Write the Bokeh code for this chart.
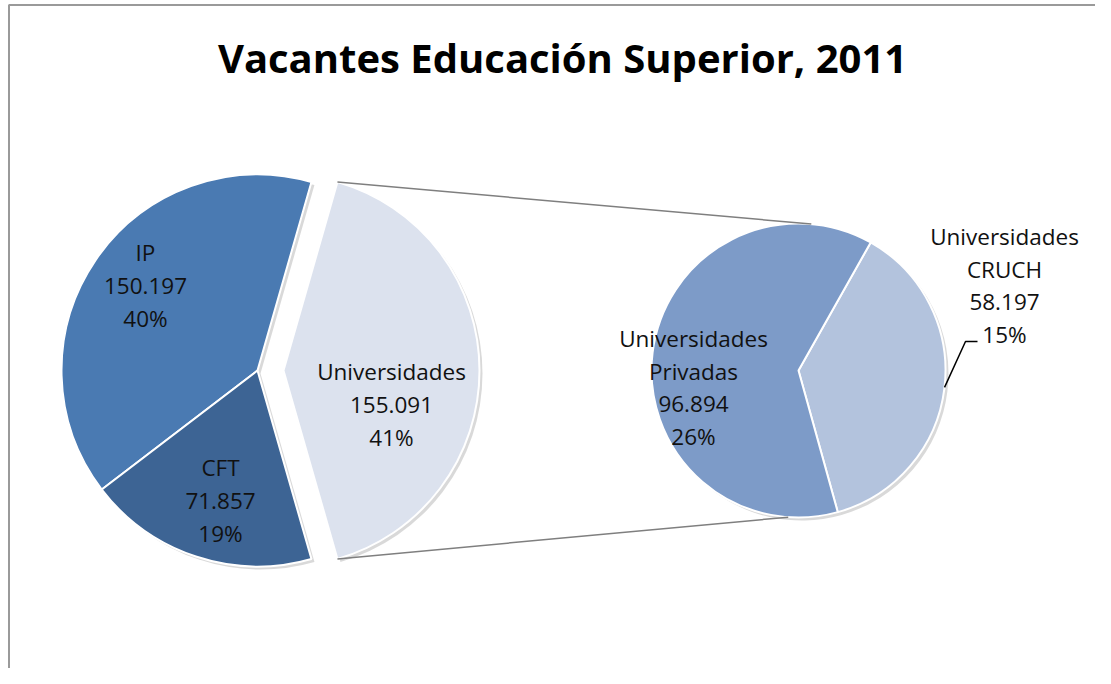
import math
from bokeh.plotting import figure
from bokeh.models import Range1d
from bokeh.core.properties import value
from bokeh.embed import file_html
from bokeh.resources import INLINE

# ---- data ----
title_text = "Vacantes Educación Superior, 2011"
main_categories = ["Universidades", "IP", "CFT"]
main_values = [155091, 150197, 71857]
sub_categories = ["Universidades\nCRUCH", "Universidades\nPrivadas"]
sub_values = [58197, 96894]

# ---- styles ----
main_colors = ["#DCE2EE", "#4A7AB2", "#3D6494"]
sub_colors = ["#B3C3DD", "#7D9BC8"]
FONT = "Open Sans"

W, H = 1095, 668
SCREEN_H = 684


def sy(y_screen):
    return SCREEN_H - y_screen


p = figure(width=W, height=H, x_range=Range1d(0, W), y_range=Range1d(SCREEN_H - H, SCREEN_H),
           output_backend="svg", toolbar_location=None, min_border=0,
           x_axis_type=None, y_axis_type=None)
p.grid.visible = False
p.outline_line_color = None
p.background_fill_color = "white"

# chart area border (left and top visible in reference)
p.line(x=[8.5, 8.5, W], y=[sy(684), sy(4.5), sy(4.5)], line_color="#9A9A9A", line_width=2)

total = sum(main_values)
fmt = lambda v: f"{v:,}".replace(",", ".")
pct = lambda v: f"{round(v / total * 100)}%"

# ---- main pie ----
cx, cy, R = 257, sy(370), 196
explode = 26
spans = [v / total * 2 * math.pi for v in main_values]
starts, ends = [], []
a = -spans[0] / 2
for s in spans:
    starts.append(a)
    ends.append(a + s)
    a += s
xs = [cx + explode, cx, cx]
ys = [cy, cy, cy]

# shadows
p.wedge(x=[x + 3 for x in xs], y=[y - 3 for y in ys], radius=R, start_angle=starts, end_angle=ends,
        fill_color="#000000", fill_alpha=0.15, line_color=None)
p.wedge(x=xs, y=ys, radius=R, start_angle=starts, end_angle=ends,
        fill_color=main_colors, line_color="white", line_width=2)

# ---- secondary pie ----
sx, scy, r2 = 798, sy(370), 147
sub_total = sum(sub_values)
s_spans = [v / sub_total * 2 * math.pi for v in sub_values]
s_start0 = math.radians(-74.5)
s_starts, s_ends = [], []
a = s_start0
for s in s_spans:
    s_starts.append(a)
    s_ends.append(a + s)
    a += s
p.wedge(x=[sx + 3] * 2, y=[scy - 3] * 2, radius=r2, start_angle=s_starts, end_angle=s_ends,
        fill_color="#000000", fill_alpha=0.15, line_color=None)
p.wedge(x=[sx] * 2, y=[scy] * 2, radius=r2, start_angle=s_starts, end_angle=s_ends,
        fill_color=sub_colors, line_color="white", line_width=2)

# ---- connector lines ----
ux, uy = cx + explode, cy
t1 = (ux + R * math.cos(ends[0]), uy + R * math.sin(ends[0]))
b1 = (ux + R * math.cos(starts[0]), uy + R * math.sin(starts[0]))
t2 = (sx + r2 * math.cos(math.radians(85)), scy + r2 * math.sin(math.radians(85)))
b2 = (sx + r2 * math.cos(math.radians(-94)), scy + r2 * math.sin(math.radians(-94)))
p.segment(x0=[t1[0], b1[0]], y0=[t1[1], b1[1]], x1=[t2[0], b2[0]], y1=[t2[1], b2[1]],
          line_color="#7F7F7F", line_width=1.5)

# ---- labels ----
labels = [f"{c}\n{fmt(v)}\n{pct(v)}" for c, v in zip(main_categories, main_values)]
lab_x = [391, 145, 220]
lab_y = [sy(404), sy(285), sy(500)]
p.text(x=lab_x, y=lab_y, text=labels, text_font=value(FONT), text_font_size="22.5px",
       text_align="center", text_baseline="middle", text_line_height=1.05, text_color="#111111")

sub_labels = [f"{c}\n{fmt(v)}\n{pct(v)}" for c, v in zip(sub_categories, sub_values)]
p.text(x=[1004, 693], y=[sy(285), sy(387)], text=sub_labels, text_font=value(FONT), text_font_size="22.5px",
       text_align="center", text_baseline="middle", text_line_height=1.05, text_color="#111111")

# leader line for CRUCH label
ang = math.radians(-6.6)
p.line(x=[sx + r2 * math.cos(ang), 965, 977], y=[scy + r2 * math.sin(ang), sy(341), sy(341)],
       line_color="#000000", line_width=1.5)

# ---- title ----
p.text(x=[562], y=[sy(57)], text=[title_text], text_font=value(FONT), text_font_size="40px",
       text_font_style="bold", text_align="center", text_baseline="middle", text_color="#000000")

open("out.html", "w").write(file_html(p, INLINE))
